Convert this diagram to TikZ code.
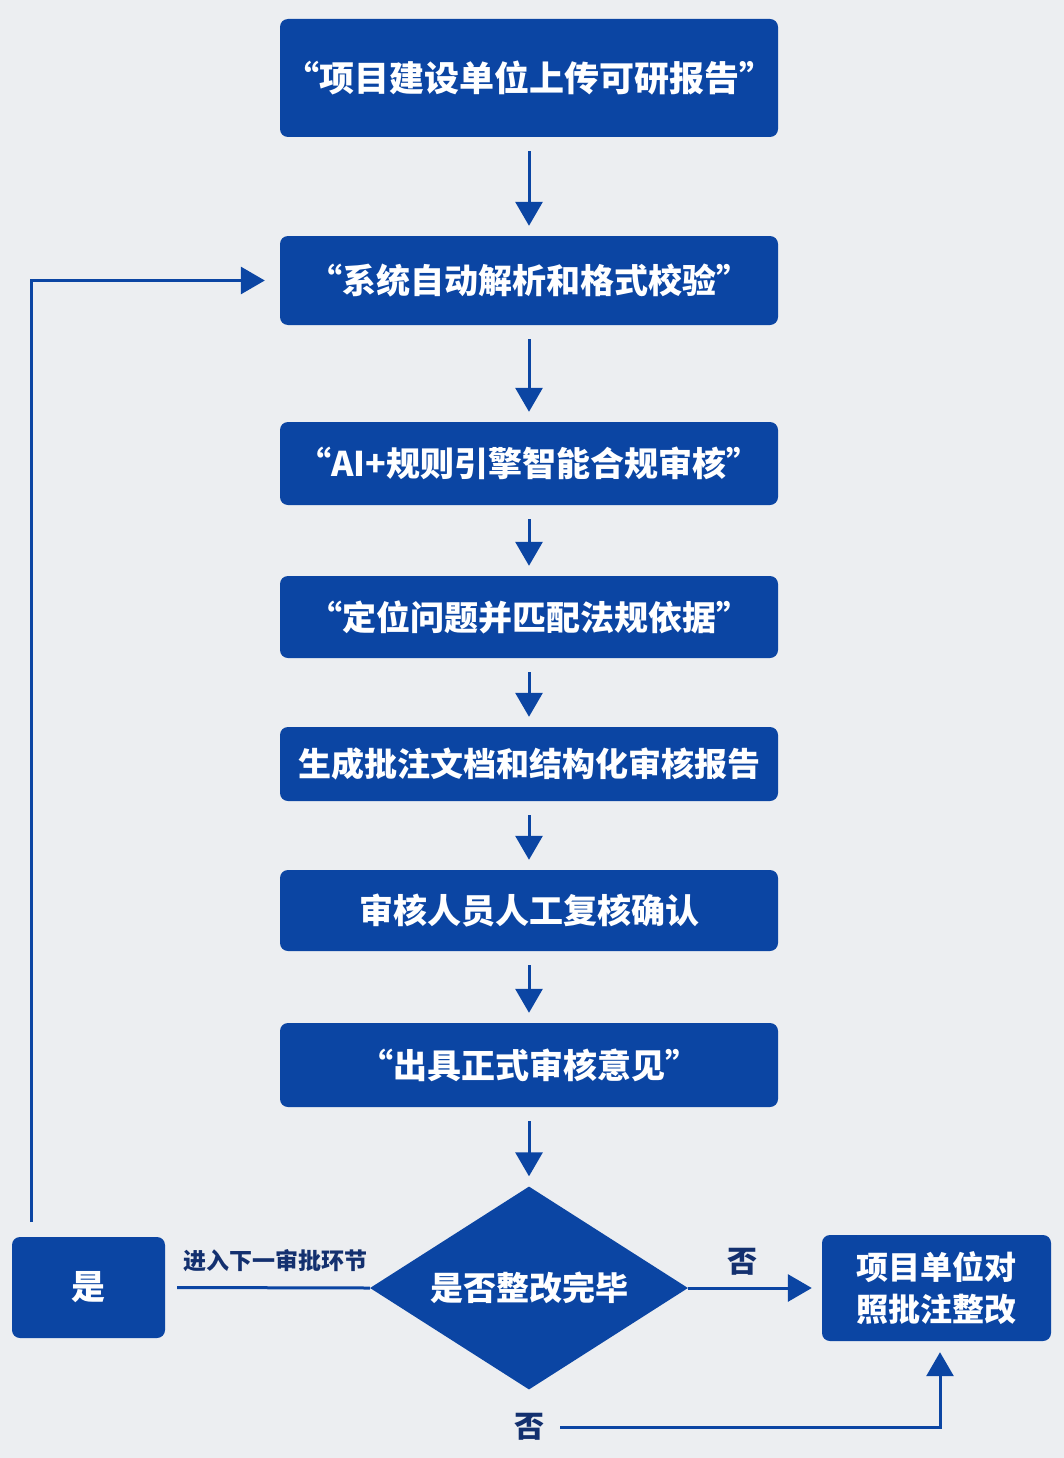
\documentclass[tikz,border=0pt]{standalone}
\usepackage{fontspec}
\setmainfont{Noto Sans CJK SC}
\usetikzlibrary{arrows.meta,shapes.geometric}
\definecolor{bg}{HTML}{ECEEF1}
\definecolor{boxblue}{HTML}{0B45A3}
\definecolor{lblnavy}{HTML}{13306F}
\begin{document}
\begin{tikzpicture}[x=1pt,y=-1pt,
  box/.style={fill=boxblue, rounded corners=8pt, text=white, inner sep=0pt,
    font=\bfseries\fontsize{34}{40}\selectfont, minimum width=498pt, align=center},
  conn/.style={draw=boxblue, line width=3pt},
  arr/.style={conn, -{Triangle[width=27pt,length=24pt]}},
  down/.style={arr, shorten <=14pt, shorten >=10pt},
  lbl/.style={text=lblnavy, font=\bfseries\fontsize{23}{28}\selectfont, inner sep=0pt},
  nolbl/.style={text=lblnavy, font=\bfseries\fontsize{30}{34}\selectfont, inner sep=0pt}
]
\fill[bg] (0,0) rectangle (1064,1458);
\useasboundingbox (0,0) rectangle (1064,1458);

\node[box, minimum height=118pt, font=\bfseries\fontsize{35}{40}\selectfont] (b1) at (529,78) {“项目建设单位上传可研报告”};
\node[box, minimum height=89pt] (b2) at (529,280.5) {“系统自动解析和格式校验”};
\node[box, minimum height=83pt] (b3) at (529,463.5) {“AI+规则引擎智能合规审核”};
\node[box, minimum height=82pt] (b4) at (529,617) {“定位问题并匹配法规依据”};
\node[box, minimum height=74pt, font=\bfseries\fontsize{33}{40}\selectfont] (b5) at (529,764) {生成批注文档和结构化审核报告};
\node[box, minimum height=81pt] (b6) at (529,910.5) {审核人员人工复核确认};
\node[box, minimum height=84pt] (b7) at (529,1065) {“出具正式审核意见”};

\node[diamond, fill=boxblue, text=white, inner sep=0pt, aspect=1.57,
  minimum width=318pt, minimum height=203pt,
  font=\bfseries\fontsize{33}{40}\selectfont] (dia) at (529,1288) {是否整改完毕};

\node[box, minimum width=153pt, minimum height=101pt] (yes) at (88.5,1287.5) {是};
\node[box, minimum width=229pt, minimum height=106pt,
  font=\bfseries\fontsize{32}{42}\selectfont] (fix) at (936.5,1288) {项目单位对\\照批注整改};

\draw[down] (b1) -- (b2);
\draw[down] (b2) -- (b3);
\draw[down] (b3) -- (b4);
\draw[down] (b4) -- (b5);
\draw[down] (b5) -- (b6);
\draw[down] (b6) -- (b7);
\draw[down] (b7) -- (dia);

\coordinate (loopS) at (31,1222);
\draw[arr] (loopS) |- ([xshift=-15pt]b2.west);

\draw[conn] ([xshift=12pt]yes.east) -- (dia.west);
\node[lbl] (nextlbl) at (275,1261) {进入下一审批环节};

\draw[arr] (dia.east) -- ([xshift=-10pt]fix.west);
\node[nolbl] (no1) at (742,1262) {否};

\node[nolbl] (no2) at (529,1427) {否};
\draw[arr] ([xshift=16pt]no2.east) -| ([xshift=3.5pt,yshift=-11pt]fix.south);
\end{tikzpicture}
\end{document}
